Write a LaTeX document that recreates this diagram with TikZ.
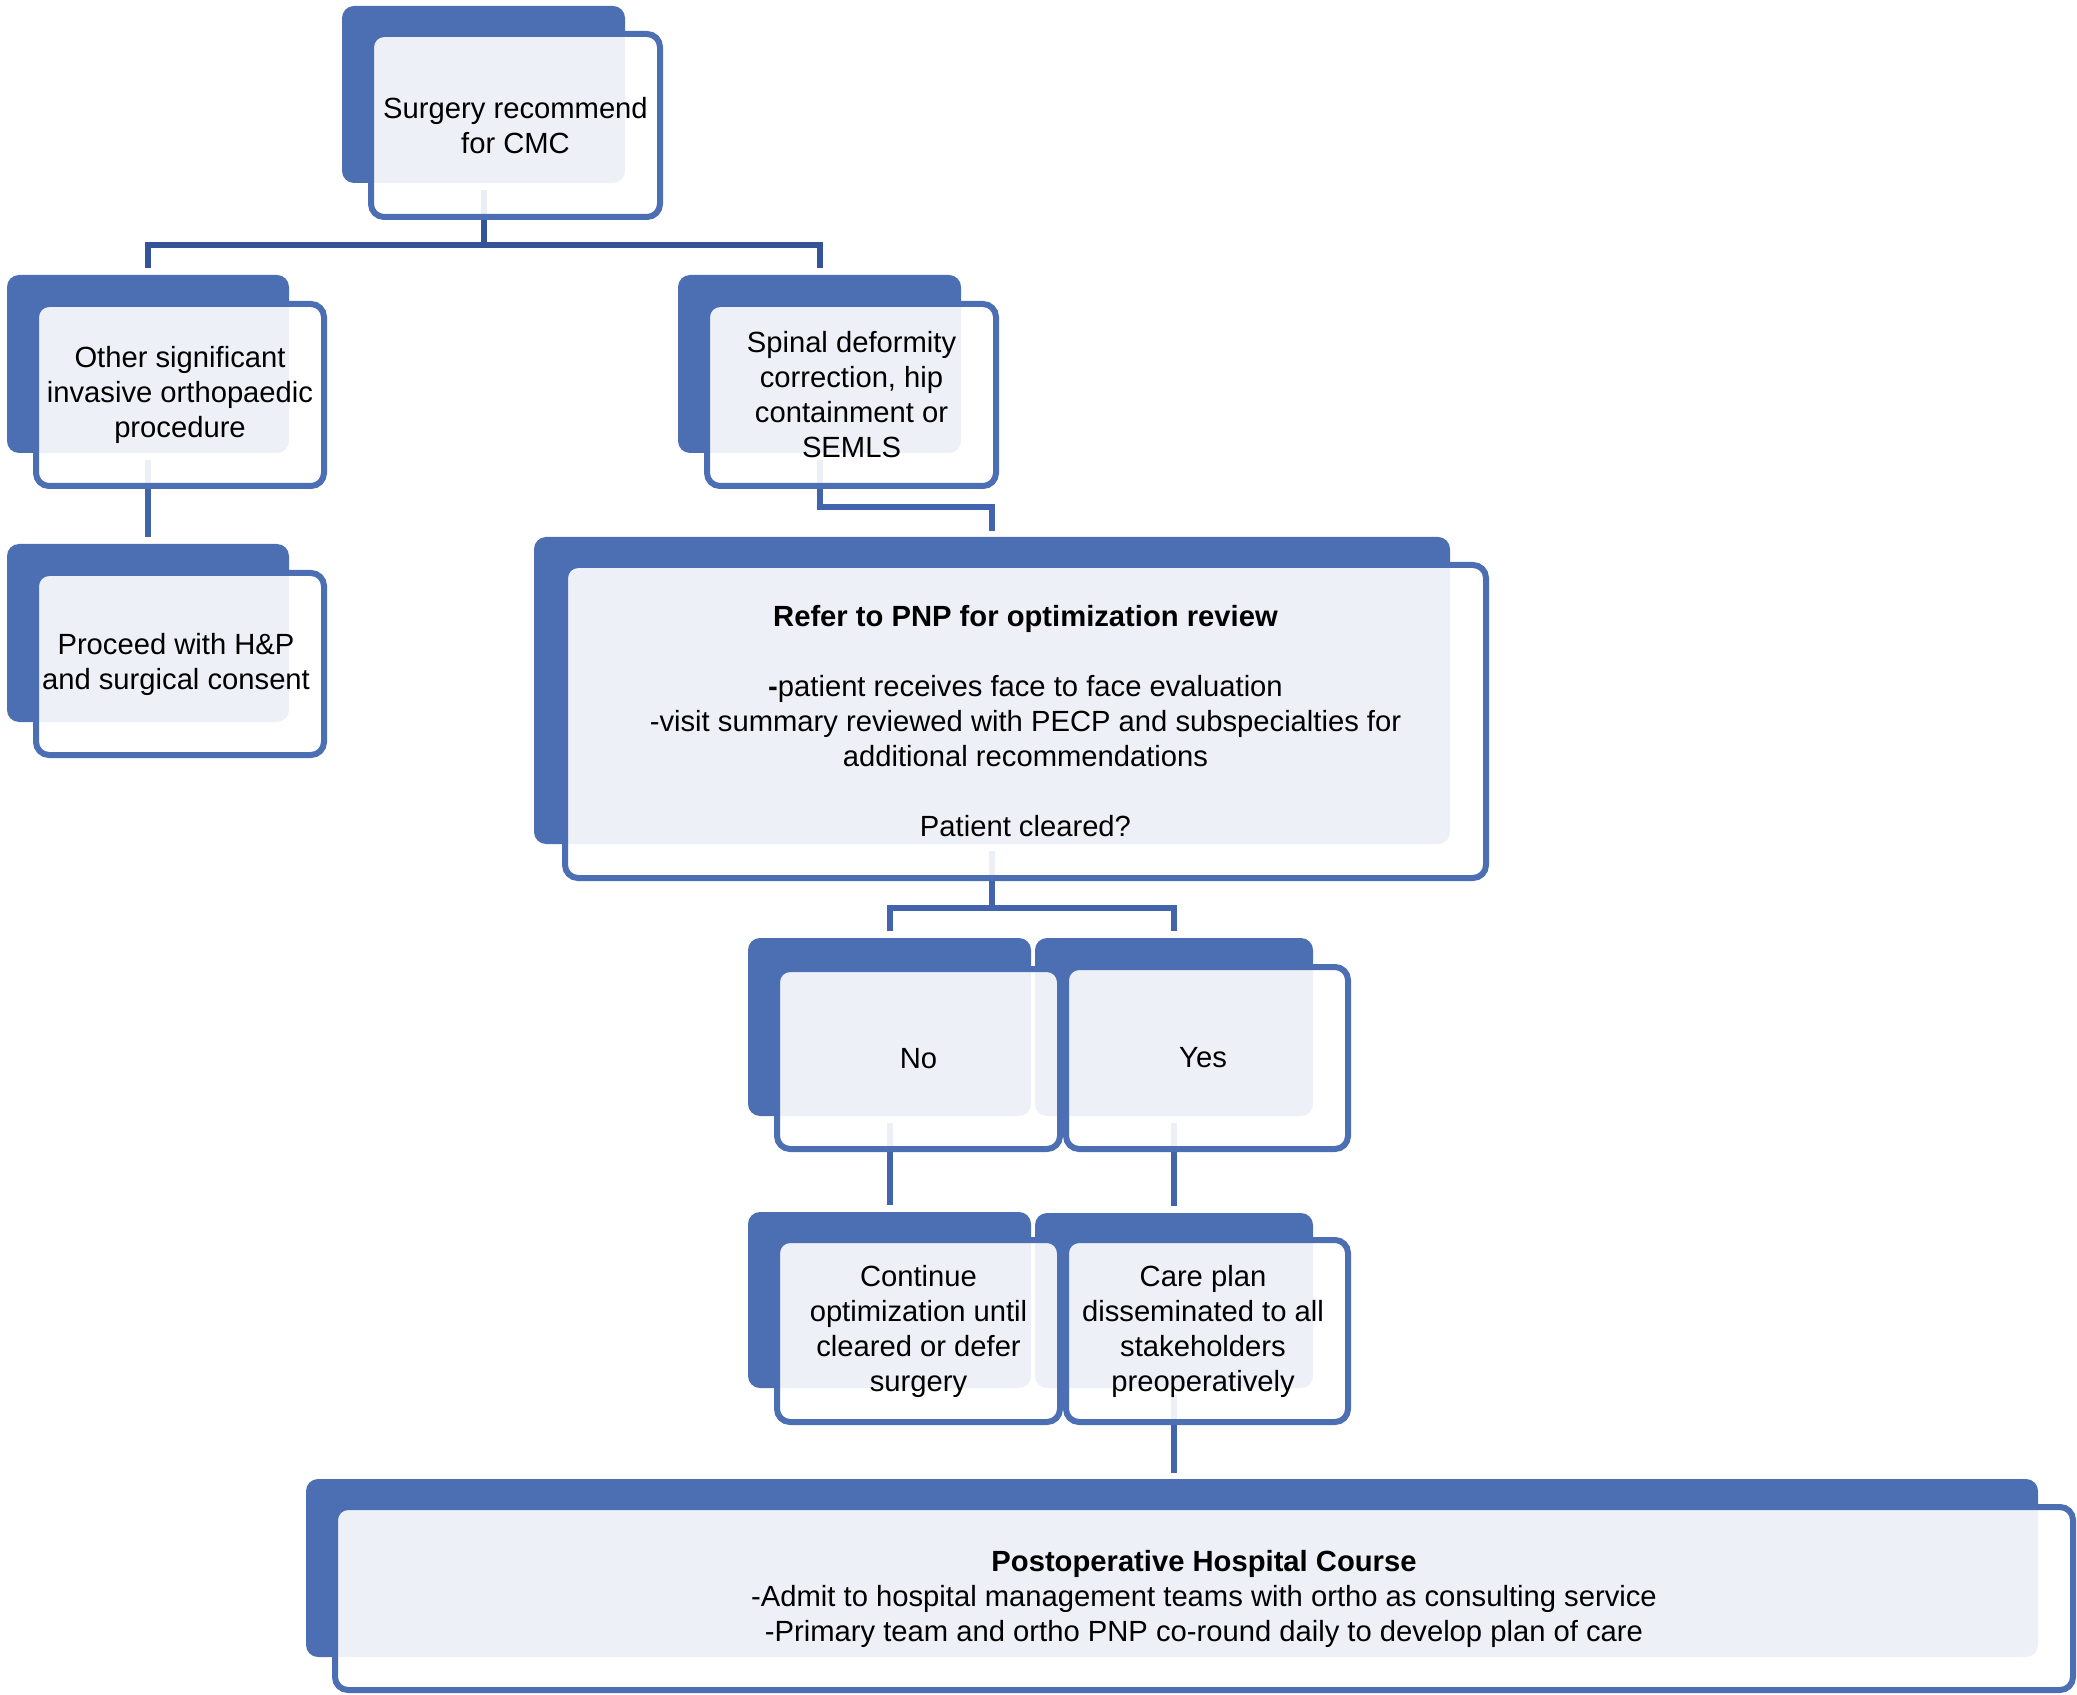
\documentclass[tikz,border=0pt]{standalone}
\usepackage{fontspec}
\setmainfont{Liberation Sans}
\usetikzlibrary{fit,calc,backgrounds}
\definecolor{boxblue}{RGB}{76,111,179}
\definecolor{connblue}{RGB}{66,100,172}
\definecolor{topblue}{RGB}{52,83,152}
\begin{document}
\begin{tikzpicture}[x=0.5pt,y=-0.5pt,
  back/.style={fill=boxblue, rounded corners=6pt, inner sep=0pt, outer sep=0pt},
  front/.style={draw=boxblue, line width=3pt, fill=white, fill opacity=0.9, rounded corners=6.5pt, inner sep=0pt, outer sep=0pt},
  txt/.style={align=center, font=\fontsize{14.6pt}{17.5pt}\selectfont, text=black, inner sep=0pt},
  conn/.style={draw=connblue, line width=3pt},
  topconn/.style={draw=topblue, line width=3pt}]
\useasboundingbox (0,0) rectangle (2077,1695);

% back (blue) rectangles
\node[back, fit={(342,6) (625,183)}] (b1) {};
\node[back, fit={(7,275) (289,453)}] (b2) {};
\node[back, fit={(7,544) (289,722)}] (b3) {};
\node[back, fit={(678,275) (961,453)}] (b4) {};
\node[back, fit={(534,537) (1450,844)}] (b5) {};
\node[back, fit={(748,938) (1031,1116)}] (b6) {};
\node[back, fit={(1035,938) (1313,1116)}] (b7) {};
\node[back, fit={(748,1212) (1031,1388)}] (b8) {};
\node[back, fit={(1035,1213) (1313,1388)}] (b9) {};
\node[back, fit={(306,1479) (2038,1657)}] (b10) {};

% front (outlined) boxes
\node[front, fit={(371,34) (660,217)}] (f1) {};
\node[front, fit={(36,304) (324,486)}] (f2) {};
\node[front, fit={(36,573) (324,755)}] (f3) {};
\node[front, fit={(707,304) (996,486)}] (f4) {};
\node[front, fit={(565,565) (1486,878)}] (f5) {};
\node[front, fit={(777,969) (1060,1149)}] (f6) {};
\node[front, fit={(1066,967) (1348,1149)}] (f7) {};
\node[front, fit={(777,1240) (1060,1422)}] (f8) {};
\node[front, fit={(1066,1240) (1348,1422)}] (f9) {};
\node[front, fit={(335,1507) (2073,1690)}] (f10) {};

% texts
\node[txt] (t1) at (f1.center) {Surgery recommend\\for CMC};
\node[txt] (t2) at (f2.center) {Other significant\\invasive orthopaedic\\procedure};
\node[txt] (t3) at ([xshift=-2pt]f3.center) {Proceed with H\&P\\and surgical consent};
\node[txt] (t4) at (f4.center) {Spinal deformity\\correction, hip\\containment or\\SEMLS};
\node[txt] (t5) at (f5.center) {\textbf{Refer to PNP for optimization review}\\[17.5pt]\textbf{-}patient receives face to face evaluation\\-visit summary reviewed with PECP and subspecialties for\\additional recommendations\\[17.5pt]Patient cleared?};
\node[txt] (t6) at (f6.center) {No};
\node[txt] (t7) at ([xshift=-2pt]f7.center) {Yes};
\node[txt] (t8) at (f8.center) {Continue\\optimization until\\cleared or defer\\surgery};
\node[txt] (t9) at ([xshift=-2pt]f9.center) {Care plan\\disseminated to all\\stakeholders\\preoperatively};
\node[txt] (t10) at (f10.center) {\textbf{Postoperative Hospital Course}\\-Admit to hospital management teams with ortho as consulting service\\-Primary team and ortho PNP co-round daily to develop plan of care};

% connectors (behind the boxes)
\begin{pgfonlayer}{background}
\coordinate (j1) at ($(b1.south)+(0,62)$);
\draw[topconn] ($(b1.south)+(0,7)$) -- (j1);
\draw[topconn] ($(b2.north)+(0,-7)$) |- (j1) -| ($(b4.north)+(0,-7)$);
\draw[conn] ($(b2.south)+(0,7)$) -- ($(b3.north)+(0,-7)$);
\draw[conn] ($(b4.south)+(0,7)$) |- ($(b5.north)+(0,-30)$) -- ($(b5.north)+(0,-6)$);
\coordinate (j2) at ($(b5.south)+(0,64)$);
\draw[conn] ($(b5.south)+(0,7)$) -- (j2);
\draw[conn] ($(b6.north)+(0,-7)$) |- (j2) -| ($(b7.north)+(0,-7)$);
\draw[conn] ($(b6.south)+(0,7)$) -- ($(b8.north)+(0,-7)$);
\draw[conn] ($(b7.south)+(0,7)$) -- ($(b9.north)+(0,-7)$);
\draw[conn] ($(b9.south)+(0,7)$) -- ($(b9.south |- b10.north)+(0,-6)$);
\end{pgfonlayer}
\end{tikzpicture}
\end{document}
